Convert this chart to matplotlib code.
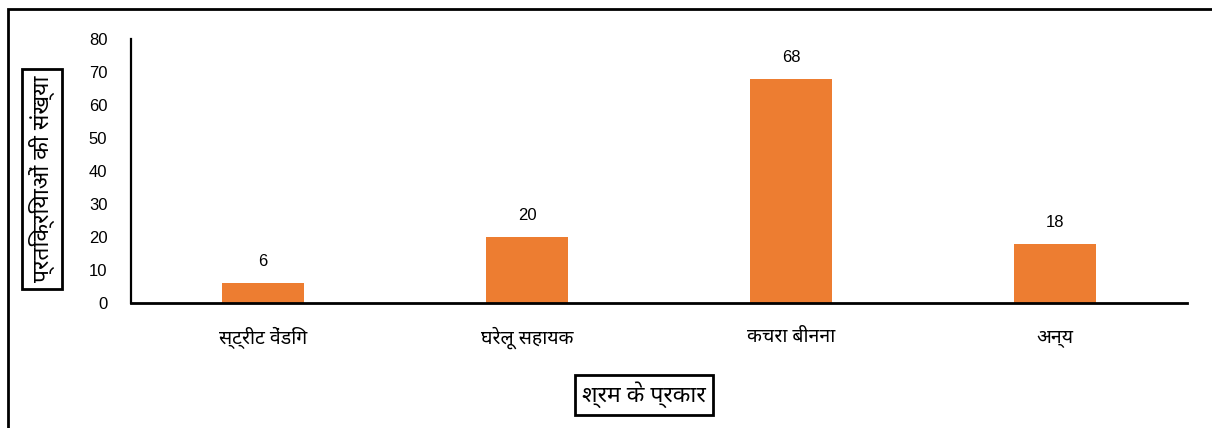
import matplotlib
matplotlib.use("Agg")
import matplotlib.pyplot as plt
from matplotlib.patches import Rectangle

# work type categories and number of responses
categories = ["स्ट्रीट वेंडिंग", "घरेलू सहायक", "कचरा बीनना", "अन्य"]
responses = [6, 20, 68, 18]
yticks = [0, 10, 20, 30, 40, 50, 60, 70, 80]

ylabel = "प्रतिक्रियाओं की संख्या"
xlabel = "श्रम के प्रकार"

num_font = ["Liberation Sans", "DejaVu Sans"]
hi_font = ["Noto Sans Devanagari", "Liberation Sans", "DejaVu Sans"]
bar_color = "#ED7D31"

fig = plt.figure(figsize=(12.12, 4.28), dpi=100)
ax = fig.add_axes([131 / 1212, 1 - 303 / 428, 1056 / 1212, 264 / 428])

x = range(len(categories))
bars = ax.bar(x, responses, width=0.31, color=bar_color, zorder=2)

ax.set_xlim(-0.5, 3.5)
ax.set_ylim(0, 80)
ax.set_yticks(yticks)
ax.set_yticklabels([str(v) for v in yticks], family=num_font, fontsize=12)
ax.tick_params(axis="y", length=0, pad=17)
ax.set_xticks(list(x))
ax.set_xticklabels(categories, family=hi_font, fontsize=14, fontweight="light")
ax.tick_params(axis="x", length=0, pad=17)

for side in ["top", "right"]:
    ax.spines[side].set_visible(False)
ax.spines["left"].set_linewidth(1.6)
ax.spines["bottom"].set_linewidth(2.0)

for b, v in zip(bars, responses):
    ax.annotate(str(v), (b.get_x() + b.get_width() / 2, v),
                xytext=(0, 10), textcoords="offset points",
                ha="center", va="bottom", family=num_font, fontsize=12)

# boxed axis titles
box = dict(boxstyle="square,pad=0.3", facecolor="white", edgecolor="black", linewidth=2)
fig.text(42 / 1212, 1 - 179 / 428, ylabel, rotation=90, ha="center", va="center",
         family=hi_font, fontsize=16.5, fontweight="light", bbox=box)
fig.text(644 / 1212, 1 - 395 / 428, xlabel, ha="center", va="center",
         family=hi_font, fontsize=16.5, fontweight="light", bbox=box)

# outer frame (left and top edges only show)
fig.patches.append(Rectangle((8 / 1212, -0.2), 1.1, 1.2 - 9 / 428, transform=fig.transFigure,
                             fill=False, edgecolor="black", linewidth=2))

fig.savefig("out.png", dpi=100)
